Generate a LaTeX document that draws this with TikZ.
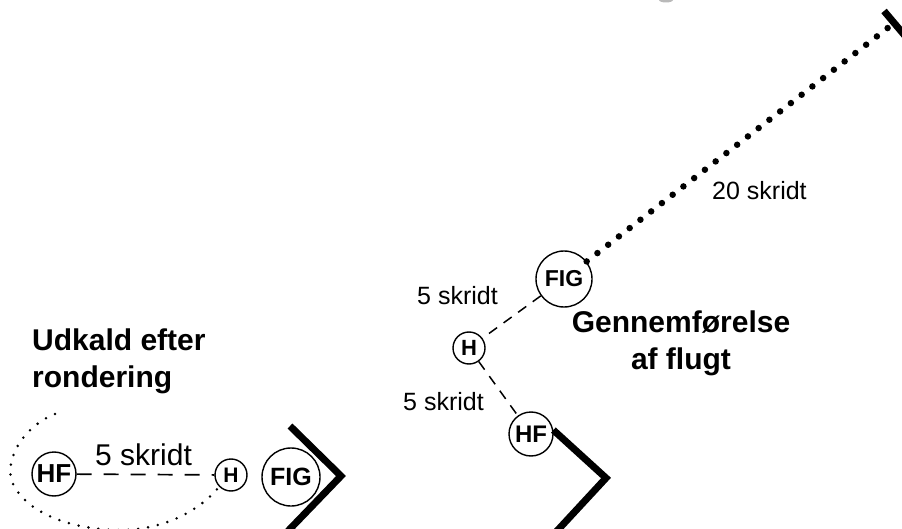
\documentclass[tikz,border=0pt]{standalone}
\usepackage{fontspec}
\setmainfont{Liberation Sans}
\newcommand\fsz[1]{\fontsize{#1}{#1}\selectfont}
\begin{document}
\begin{tikzpicture}[x=1pt,y=-1pt,
  person/.style={circle, draw, line width=1.4pt, inner sep=0pt},
  lbl/.style={inner sep=0pt, anchor=base west},
  title/.style={inner sep=0pt, font=\bfseries\fontsize{30}{37}\selectfont},
  chev/.style={line width=7pt, miter limit=10},
  stepsA/.style={line width=1.7pt, dash pattern=on 15pt off 12pt},
  stepsB/.style={line width=1.5pt, dash pattern=on 10pt off 8pt},
  bigdots/.style={line width=6.5pt, line cap=round, dash pattern=on 0pt off 13.6pt},
  smalldots/.style={line width=2.8pt, line cap=round, dash pattern=on 0pt off 10pt}]
\clip (0,0) rectangle (902,529);

% grey smudge at top
\fill[gray!55] (666,0) ellipse [x radius=7pt, y radius=2.5pt];

% ---------- left group ----------
\node[person, minimum size=44pt, font=\bfseries\fsz{26}] (hfL) at (54,474) {HF};
\node[person, minimum size=32pt, font=\bfseries\fsz{21}] (hL) at (231,475) {H};
\node[person, minimum size=58pt, font=\bfseries\fsz{25}] (figL) at (291,477) {FIG};
\node[title, anchor=north west, align=left] (udk) at (32,329) {Udkald efter\\rondering};
\node[lbl, font=\fsz{30}] (sL) at (95,465) {5 skridt};
\draw[stepsA] (hfL) -- (hL);
\coordinate (loopS) at (55,414);
\draw[smalldots] (loopS) .. controls (20,428) and (2,465) .. (14,486)
  .. controls (30,515) and (75,530) .. (120,530)
  .. controls (165,530) and (200,510) .. (hL.225);
\draw[chev] (290,426) -- (341,476) -- (288,531);

% ---------- right group ----------
\node[person, minimum size=56pt, font=\bfseries\fsz{23}] (figR) at (564,279) {FIG};
\node[person, minimum size=32pt, font=\bfseries\fsz{22}] (hR) at (469,348) {H};
\node[person, minimum size=44pt, font=\bfseries\fsz{24}] (hfR) at (531,434) {HF};
\node[title, anchor=north, align=center] (gen) at (681,311) {Gennemførelse\\af flugt};
\node[lbl, font=\fsz{25}] (s1) at (417,305) {5 skridt};
\node[lbl, font=\fsz{25}] (s2) at (403,410) {5 skridt};
\node[lbl, font=\fsz{25}] (s20) at (712,200) {20 skridt};
\draw[stepsB] (figR) -- (hR);
\draw[stepsB] (hR) -- (hfR);
\draw[chev] (hfR.10) -- (606,478) -- (556,532);

% far end
\coordinate (far) at (889,27);
\draw[bigdots] (figR) -- (far);
\draw[chev] (884,11) -- (906,37);
\end{tikzpicture}
\end{document}
